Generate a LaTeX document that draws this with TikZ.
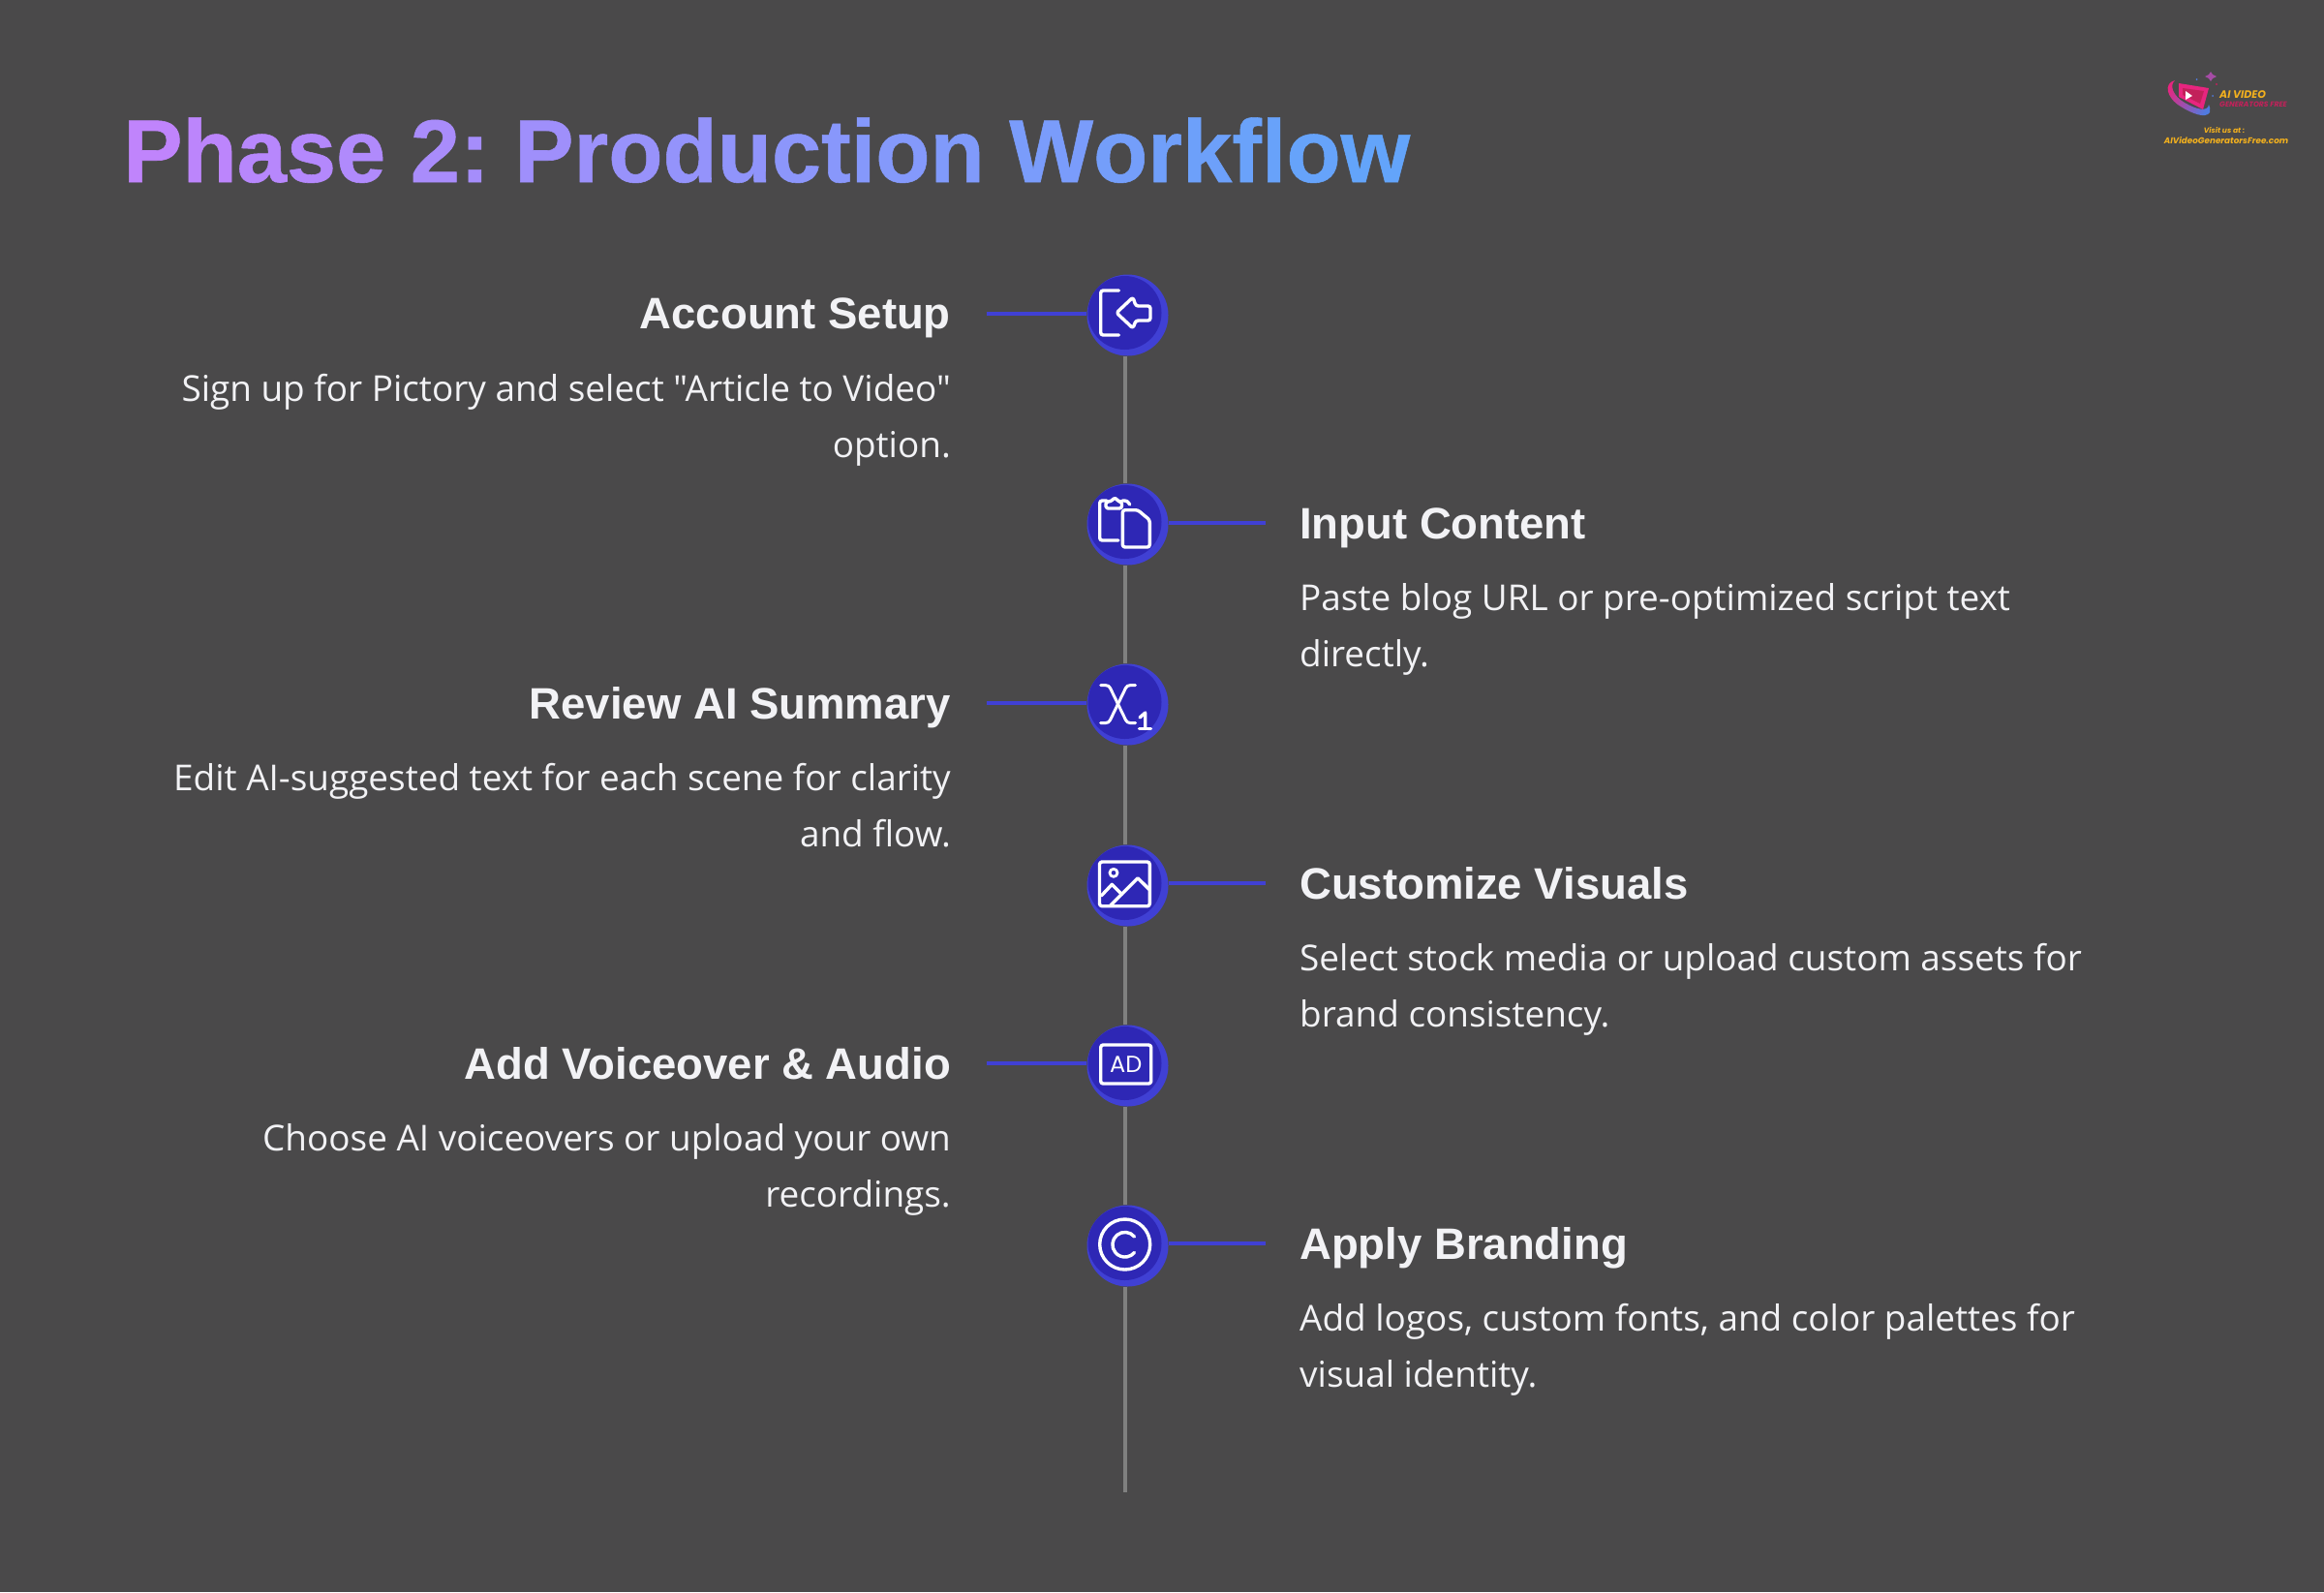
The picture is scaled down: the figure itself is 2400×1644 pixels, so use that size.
\documentclass[tikz,border=0pt]{standalone}
\usepackage{fontspec}
\newfontfamily\bodyfont{Open Sans}
\newfontfamily\titlefont[FakeBold=0.6]{Liberation Sans}
\newfontfamily\headfont{Liberation Sans}
\newfontfamily\logofont{Poppins}
\definecolor{bgc}{HTML}{4A494A}
\definecolor{ringc}{HTML}{4040D4}
\definecolor{corec}{HTML}{2E27B5}
\definecolor{linec}{HTML}{808080}
\definecolor{textc}{HTML}{F2F2F5}
\definecolor{tstart}{HTML}{C084FC}
\definecolor{tend}{HTML}{60A5FA}
\definecolor{logoy}{HTML}{F2B01E}
\definecolor{logor}{HTML}{C2215A}
\definecolor{logop}{HTML}{E8257F}
\definecolor{logob}{HTML}{4F7BE0}
\newcommand{\tc}[2]{\textcolor{tend!#1!tstart}{#2}}
\tikzset{
  outerdot/.style={circle,fill=ringc,draw=none,minimum size=84pt,inner sep=0pt},
  innerdot/.style={circle,fill=corec,draw=none,minimum size=76pt,inner sep=0pt},
  spine/.style={draw=linec,line width=4pt},
  branch/.style={draw=ringc,line width=4.5pt},
  ico/.style={draw=white,line width=3.4pt,line cap=round,line join=round,rounded corners=2.5pt},
  icoplain/.style={draw=white,line width=3.4pt,line cap=round,line join=round},
  headl/.style={anchor=base east,inner sep=0pt,text=textc,font=\headfont\fontsize{45.5}{46}\selectfont\bfseries},
  headr/.style={anchor=base west,inner sep=0pt,text=textc,font=\headfont\fontsize{45.5}{46}\selectfont\bfseries},
  bodyl/.style={anchor=base east,inner sep=0pt,text=textc,font=\bodyfont\fontsize{36.9}{37}\selectfont},
  bodyr/.style={anchor=base west,inner sep=0pt,text=textc,font=\bodyfont\fontsize{36.9}{37}\selectfont},
  logot/.style={inner sep=0pt,anchor=base west}
}
\begin{document}
\frenchspacing
\begin{tikzpicture}[x=1pt,y=-1pt]
\useasboundingbox (0,0) rectangle (2400,1644);
\fill[bgc] (0,0) rectangle (2400,1644);
% title
\node[anchor=base west,inner sep=0pt,font=\titlefont\fontsize{92}{92}\selectfont\bfseries] (title) at (127,188)
 {\tc{0}{P}\tc{4}{h}\tc{9}{a}\tc{13}{s}\tc{17}{e}\space\tc{24}{2}\tc{28}{:}\space\tc{34}{P}\tc{38}{r}\tc{42}{o}\tc{46}{d}\tc{50}{u}\tc{54}{c}\tc{58}{t}\tc{61}{i}\tc{63}{o}\tc{67}{n}\space\tc{73}{W}\tc{79}{o}\tc{83}{r}\tc{86}{k}\tc{90}{f}\tc{92}{l}\tc{94}{o}\tc{97}{w}};
% circles
\node[outerdot] (o1) at (1164.5,325.5) {};
\node[outerdot] (o2) at (1164.5,541.5) {};
\node[outerdot] (o3) at (1164.5,727.5) {};
\node[outerdot] (o4) at (1164.5,914.5) {};
\node[outerdot] (o5) at (1164.5,1100.5) {};
\node[outerdot] (o6) at (1164.5,1286.5) {};
\node[innerdot] (n1) at (1161.5,323) {};
\node[innerdot] (n2) at (1161.5,539) {};
\node[innerdot] (n3) at (1161.5,725) {};
\node[innerdot] (n4) at (1161.5,912) {};
\node[innerdot] (n5) at (1161.5,1098) {};
\node[innerdot] (n6) at (1161.5,1284) {};
% spine
\coordinate (spineend) at (1162,1541);
\draw[spine] (n1 |- o1.south) -- (n2 |- o2.north);
\draw[spine] (n2 |- o2.south) -- (n3 |- o3.north);
\draw[spine] (n3 |- o3.south) -- (n4 |- o4.north);
\draw[spine] (n4 |- o4.south) -- (n5 |- o5.north);
\draw[spine] (n5 |- o5.south) -- (n6 |- o6.north);
\draw[spine] (n6 |- o6.south) -- (n6 |- spineend);
% branches
\coordinate (b1) at (1019,324);
\coordinate (b2) at (1307,540);
\coordinate (b3) at (1019,726);
\coordinate (b4) at (1307,912);
\coordinate (b5) at (1019,1098);
\coordinate (b6) at (1307,1284);
\draw[branch] (b1) -- (b1 -| o1.west);
\draw[branch] (b2) -- (b2 -| o2.east);
\draw[branch] (b3) -- (b3 -| o3.west);
\draw[branch] (b4) -- (b4 -| o4.east);
\draw[branch] (b5) -- (b5 -| o5.west);
\draw[branch] (b6) -- (b6 -| o6.east);
% icon 1
\draw[ico] (1155.5,300) -- (1136.7,300) -- (1136.7,346) -- (1155.5,346);
\draw[ico] (1153,323) -- (1170,307) -- (1173,316) -- (1188,316) -- (1188,331) -- (1173,331) -- (1170,339) -- cycle;
% icon 2
\draw[ico] (1155,558) -- (1135.7,558) -- (1135.7,517) -- (1143,517);
\draw[ico] (1159,517) -- (1164,517) -- (1166.7,521);
\draw[ico] (1142,525) -- (1142,518) -- (1147,518) -- (1151.5,513.5) -- (1155,518) -- (1158.5,518) -- (1158.5,525) -- cycle;
\draw[ico] (1159.3,526.7) -- (1175,526.7) -- (1187.3,537) -- (1187.3,565) -- (1159.3,565) -- cycle;
% icon 3
\draw[icoplain,line width=3pt] (1136.7,707.7) -- (1142,707.7) .. controls (1144,707.7) and (1145.5,708.5) .. (1146.5,710.5) -- (1162.5,743.5) .. controls (1163.5,745.5) and (1165,746.5) .. (1167,746.5) -- (1172.5,746.5);
\draw[icoplain,line width=3pt] (1172.5,707.7) -- (1167,707.7) .. controls (1165,707.7) and (1163.5,708.5) .. (1162.5,710.5) -- (1146.5,743.5) .. controls (1145.5,745.5) and (1144,746.5) .. (1142,746.5) -- (1136.7,746.5);
\draw[icoplain] (1177,741) -- (1182.7,736) -- (1182.7,752.5);
\draw[icoplain] (1176.5,752.5) -- (1188.5,752.5);
% icon 4
\draw[ico] (1135.5,890) rectangle (1187.3,935.7);
\draw[icoplain,line width=2.8pt] (1150,901.3) circle[radius=4pt];
\draw[icoplain] (1137.3,925) -- (1148.3,913.3) -- (1158.3,923.3);
\draw[icoplain] (1146.7,935) -- (1175,906.7) -- (1186.7,918.3);
% icon 5
\draw[ico] (1136.7,1079) rectangle (1188.7,1119);
\node[inner sep=0pt,text=white,font=\logofont\fontsize{24}{24}\selectfont] (ad) at (1162.7,1099.5) {AD};
% icon 6
\draw[icoplain] (1161.7,1285) circle[radius=26pt];
\draw[icoplain] (1171.5,1277) arc[start angle=40,end angle=320,radius=12.8pt];
% texts
\node[headl] (h1) at (982,339) {Account Setup};
\node[bodyl] (t1a) at (982,414) {Sign up for Pictory and select "Article to Video"};
\node[bodyl] (t1b) at (982,472) {option.};
\node[headr] (h2) at (1342,556) {Input Content};
\node[bodyr] (t2a) at (1342,630) {Paste blog URL or pre-optimized script text};
\node[bodyr] (t2b) at (1342,688) {directly.};
\node[headl] (h3) at (982,742) {Review AI Summary};
\node[bodyl] (t3a) at (982,816) {Edit AI-suggested text for each scene for clarity};
\node[bodyl] (t3b) at (982,874) {and flow.};
\node[headr] (h4) at (1342,928) {Customize Visuals};
\node[bodyr] (t4a) at (1342,1002) {Select stock media or upload custom assets for};
\node[bodyr] (t4b) at (1342,1060) {brand consistency.};
\node[headl] (h5) at (982,1114) {Add Voiceover \& Audio};
\node[bodyl] (t5a) at (982,1188) {Choose AI voiceovers or upload your own};
\node[bodyl] (t5b) at (982,1246) {recordings.};
\node[headr] (h6) at (1342,1300) {Apply Branding};
\node[bodyr] (t6a) at (1342,1374) {Add logos, custom fonts, and color palettes for};
\node[bodyr] (t6b) at (1342,1432) {visual identity.};
% logo
\shade[left color=logop,right color=logob,shading angle=60] (2246,83) .. controls (2234,86) and (2237,101) .. (2252,110) .. controls (2263,117) and (2278,123) .. (2282,116) .. controls (2283,113) and (2282,110) .. (2281,108) .. controls (2280,116) and (2268,113) .. (2256,106) .. controls (2244,99) and (2240,88) .. (2246,83) -- cycle;
\fill[logop] (2250,86) -- (2281,91) -- (2275,113) -- (2250,100) -- cycle;
\fill[logor] (2254,91) -- (2276,94) -- (2272,107) -- (2254,98) -- cycle;
\fill[white] (2257,94) -- (2264,99) -- (2257,103) -- cycle;
\fill[violet!70!white] (2283,74) -- (2285,77) -- (2289,79) -- (2285,81) -- (2283,84) -- (2281,81) -- (2277,79) -- (2281,77) -- cycle;
\fill[logob] (2268.5,82) circle[radius=1pt];
\fill[logob] (2285,99) circle[radius=1pt];
\fill[logor] (2289,87) circle[radius=1.2pt];
\node[logot,text=logoy,font=\logofont\fontsize{11}{11}\selectfont\bfseries\itshape] (lg1) at (2292,101) {AI VIDEO};
\node[logot,text=logor,font=\logofont\fontsize{7.6}{8}\selectfont\bfseries\itshape] (lg2) at (2292,110) {GENERATORS FREE};
\node[inner sep=0pt,anchor=base,text=logoy,font=\logofont\fontsize{7.6}{8}\selectfont\bfseries\itshape] (lg3) at (2297,137) {Visit us at :};
\node[inner sep=0pt,anchor=base,text=logoy,font=\logofont\fontsize{8.8}{9}\selectfont\bfseries\itshape] (lg4) at (2299,148) {AIVideoGeneratorsFree.com};
\end{tikzpicture}
\end{document}
